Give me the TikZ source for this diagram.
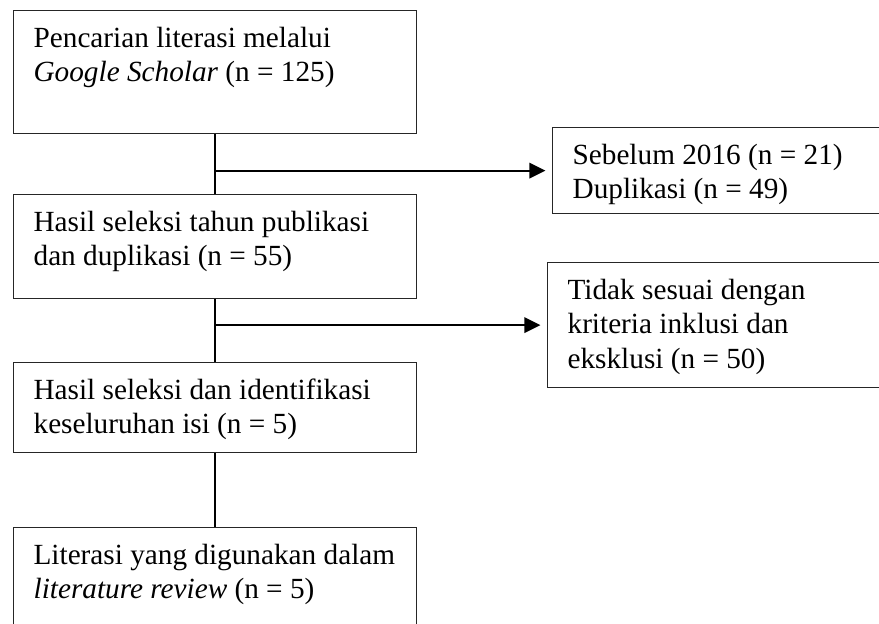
\documentclass[tikz,border=0pt]{standalone}
\usepackage{fontspec}
\setmainfont{Liberation Serif}
\usetikzlibrary{shapes,arrows.meta,positioning}
\newdimen\pxu \pxu=0.4pt
% text block of a box: #1 width, #2 height (in px of the reference)
\newcommand{\boxtext}[3]{\parbox[t][\dimexpr#2\pxu-10pt\relax][t]{\dimexpr#1\pxu-16pt\relax}{\raggedright\strut #3}}

\begin{document}
\begin{tikzpicture}[% styles for all boxes and links
      x=0.4pt, y=-0.4pt,
      every node/.style={
        font=\fontsize{11.7}{13.8}\selectfont,
        inner xsep=8pt, inner ysep=5pt % text sits top left in the box
      },
      stage/.style={rectangle,draw=black!85,line width=0.5pt,anchor=north west},
      every edge/.style={draw,line width=0.9pt},
      flow/.style={-{Triangle[length=6.5pt,width=6.2pt]},shorten >=2.6pt}
    ]
    \clip (0,0) rectangle (879,623);
    \node[stage](B1) at (13,10){\boxtext{403}{123}{Pencarian literasi melalui\\
      \textit{Google Scholar} (n = 125)}};
    \node[stage](B2) at (13,194){\boxtext{403}{104}{Hasil seleksi tahun publikasi\\
      dan duplikasi (n = 55)}};
    \node[stage](B3) at (13,362){\boxtext{403}{90}{Hasil seleksi dan identifikasi\\
      keseluruhan isi (n = 5)}};
    \node[stage](B4) at (13,527){\boxtext{403}{123}{Literasi yang digunakan dalam\\
      \textit{literature review} (n = 5)}};
    \node[stage](R1) at (552,127){\boxtext{350}{86}{Sebelum 2016 (n = 21)\\
      Duplikasi (n = 49)}};
    \node[stage](R2) at (547,262){\boxtext{355}{125}{Tidak sesuai dengan\\
      kriteria inklusi dan\\ eksklusi (n = 50)}};
    \path
    (B1)edge [] node [] {} (B2)
    (B2)edge [] node [] {} (B3)
    (B3)edge [] node [] {} (B4)
    (B1.south |- R1.west)edge [flow] node [] {} (R1.west)
    (B2.south |- R2.west)edge [flow] node [] {} (R2.west)
    ;
  \end{tikzpicture}
\end{document}
